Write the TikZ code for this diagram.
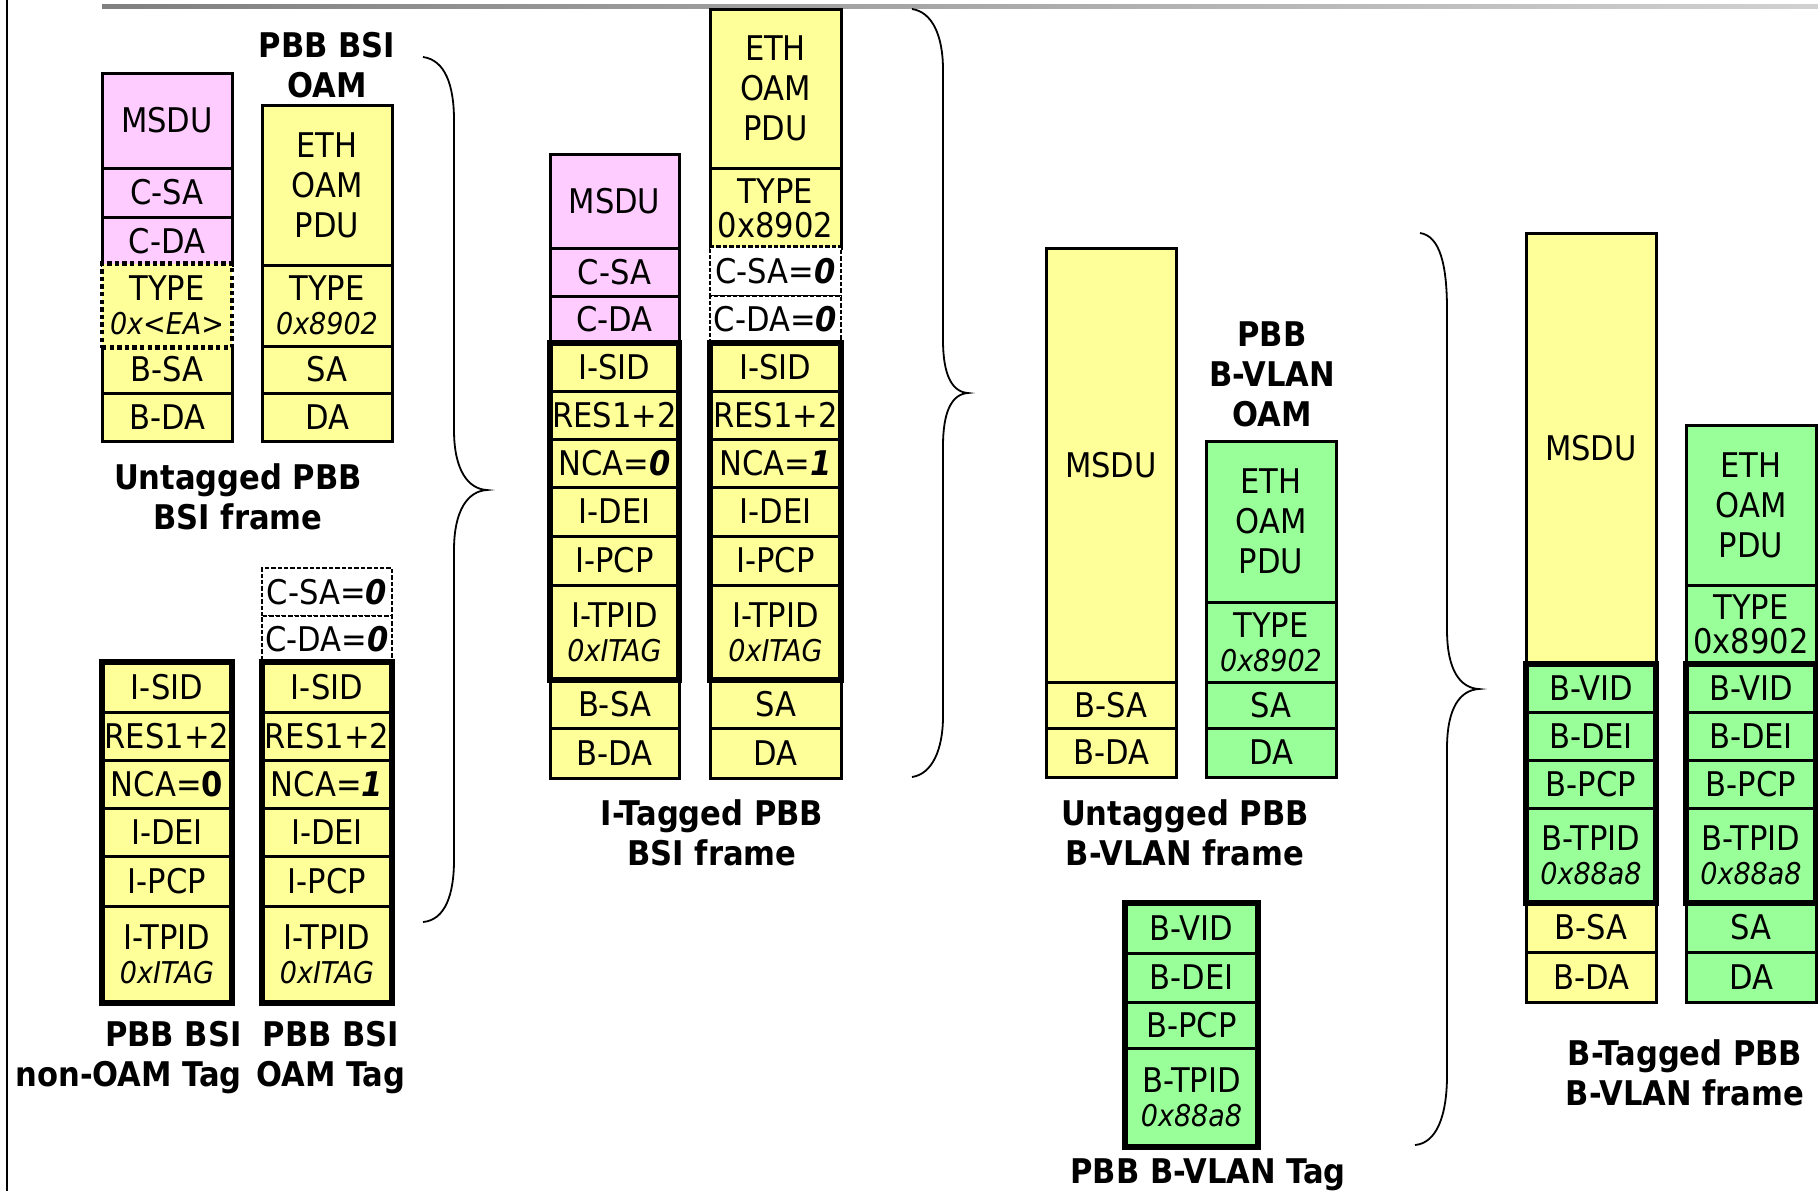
\documentclass[tikz,border=0pt]{standalone}
\usepackage{fontspec}
\setmainfont{DejaVu Sans Condensed}
\definecolor{pyellow}{HTML}{FFFF99}
\definecolor{ppink}{HTML}{FFCCFF}
\definecolor{pgreen}{HTML}{99FF99}
\newcommand\cellfont{\fontsize{17}{20}\selectfont}
\newcommand\lblfont{\fontsize{17}{20}\selectfont\bfseries}
\newcommand\subl[1]{{\fontsize{15}{17}\selectfont\itshape #1}}
\newcommand\bi[1]{{\bfseries\itshape #1}}
\tikzset{
 cellbase/.style={draw=black, line width=1.5pt, inner sep=0pt, outer sep=0pt, align=center, font=\cellfont, text=black},
 yel/.style={fill=pyellow}, pnk/.style={fill=ppink}, grn/.style={fill=pgreen},
 dotbox/.style={dash pattern=on 2.2pt off 1.6pt, line width=2.4pt},
 dashbox/.style={fill=white, dash pattern=on 2.2pt off 1pt, line width=1.3pt},
 thickbox/.style={draw=black, line width=3pt},
 lbl/.style={font=\lblfont, align=center, inner sep=0pt},
 bracestyle/.style={draw=black, line width=0.9pt},
}
\newcommand\pcell[7]{\node[cellbase,#6,minimum width={(#4-#2)*0.5pt},minimum height={(#5-#3)*0.5pt}] (#1) at ({(#2+#4)/2},{(#3+#5)/2}) {#7};}
\begin{document}
\begin{tikzpicture}[x=0.5pt,y=-0.5pt]
\useasboundingbox (0,0) rectangle (1818,1191);
\fill[white] (0,0) rectangle (1818,1191);
\shade[left color=black!50, right color=black!18] (102,4) rectangle (1818,8);
\draw[line width=1pt] (7,0) -- (7,1191);

% Untagged PBB BSI frame
\pcell{uaMsdu}{102}{73}{232}{168}{pnk}{MSDU}
\pcell{uaCsa}{102}{168}{232}{217}{pnk}{C-SA}
\pcell{uaCda}{102}{217}{232}{265}{pnk}{C-DA}
\pcell{uaBsa}{102}{346}{232}{393}{yel}{B-SA}
\pcell{uaBda}{102}{393}{232}{441}{yel}{B-DA}
\pcell{uaType}{102}{263.5}{232}{347.5}{yel,dotbox}{TYPE\\[-3pt]\subl{0x<EA>}}
% PBB BSI OAM
\pcell{uoEth}{262}{105}{392}{265}{yel}{ETH\\OAM\\PDU}
\pcell{uoType}{262}{265}{392}{346}{yel}{TYPE\\[-3pt]\subl{0x8902}}
\pcell{uoSa}{262}{346}{392}{393}{yel}{SA}
\pcell{uoDa}{262}{393}{392}{441}{yel}{DA}

% PBB BSI non-OAM Tag
\pcell{naSid}{102}{662}{232}{712}{yel}{I-SID}
\pcell{naRes}{102}{712}{232}{760}{yel}{RES1+2}
\pcell{naNca}{102}{760}{232}{808}{yel}{NCA={\bfseries 0}}
\pcell{naDei}{102}{808}{232}{856}{yel}{I-DEI}
\pcell{naPcp}{102}{856}{232}{906}{yel}{I-PCP}
\pcell{naTpid}{102}{906}{232}{1003}{yel}{I-TPID\\[-3pt]\subl{0xITAG}}
% PBB BSI OAM Tag
\pcell{otSid}{262}{662}{392}{712}{yel}{I-SID}
\pcell{otRes}{262}{712}{392}{760}{yel}{RES1+2}
\pcell{otNca}{262}{760}{392}{808}{yel}{NCA=\bi{1}}
\pcell{otDei}{262}{808}{392}{856}{yel}{I-DEI}
\pcell{otPcp}{262}{856}{392}{906}{yel}{I-PCP}
\pcell{otTpid}{262}{906}{392}{1003}{yel}{I-TPID\\[-3pt]\subl{0xITAG}}
\pcell{otCsa}{262}{568}{392}{616}{dashbox}{C-SA=\bi{0}}
\pcell{otCda}{262}{616}{392}{662}{dashbox}{C-DA=\bi{0}}

% I-Tagged PBB BSI frame, column A
\pcell{iaMsdu}{550}{154}{679}{248}{pnk}{MSDU}
\pcell{iaCsa}{550}{248}{679}{296}{pnk}{C-SA}
\pcell{iaCda}{550}{296}{679}{343}{pnk}{C-DA}
\pcell{iaSid}{550}{343}{679}{391}{yel}{I-SID}
\pcell{iaRes}{550}{391}{679}{439}{yel}{RES1+2}
\pcell{iaNca}{550}{439}{679}{487}{yel}{NCA=\bi{0}}
\pcell{iaDei}{550}{487}{679}{536}{yel}{I-DEI}
\pcell{iaPcp}{550}{536}{679}{585}{yel}{I-PCP}
\pcell{iaTpid}{550}{585}{679}{680}{yel}{I-TPID\\[-3pt]\subl{0xITAG}}
\pcell{iaBsa}{550}{680}{679}{728}{yel}{B-SA}
\pcell{iaBda}{550}{728}{679}{778}{yel}{B-DA}
% column B
\pcell{ibEth}{710}{9}{841}{168}{yel}{ETH\\OAM\\PDU}
\pcell{ibType}{710}{168}{841}{248}{yel}{TYPE\\[-3pt]0x8902}
\pcell{ibSid}{710}{343}{841}{391}{yel}{I-SID}
\pcell{ibRes}{710}{391}{841}{439}{yel}{RES1+2}
\pcell{ibNca}{710}{439}{841}{487}{yel}{NCA=\bi{1}}
\pcell{ibDei}{710}{487}{841}{536}{yel}{I-DEI}
\pcell{ibPcp}{710}{536}{841}{585}{yel}{I-PCP}
\pcell{ibTpid}{710}{585}{841}{680}{yel}{I-TPID\\[-3pt]\subl{0xITAG}}
\pcell{ibSa}{710}{680}{841}{728}{yel}{SA}
\pcell{ibDa}{710}{728}{841}{778}{yel}{DA}
\pcell{ibCsa}{710}{246.5}{841}{296}{dashbox}{C-SA=\bi{0}}
\pcell{ibCda}{710}{296}{841}{343}{dashbox}{C-DA=\bi{0}}

% Untagged PBB B-VLAN frame
\pcell{ubMsdu}{1046}{248}{1176}{682}{yel}{MSDU}
\pcell{ubBsa}{1046}{682}{1176}{728}{yel}{B-SA}
\pcell{ubBda}{1046}{728}{1176}{777}{yel}{B-DA}
\pcell{uvEth}{1206}{441}{1336}{602}{grn}{ETH\\OAM\\PDU}
\pcell{uvType}{1206}{602}{1336}{682}{grn}{TYPE\\[-3pt]\subl{0x8902}}
\pcell{uvSa}{1206}{682}{1336}{728}{grn}{SA}
\pcell{uvDa}{1206}{728}{1336}{777}{grn}{DA}

% PBB B-VLAN Tag
\pcell{bvVid}{1125}{903}{1258}{953}{grn}{B-VID}
\pcell{bvDei}{1125}{953}{1258}{1002}{grn}{B-DEI}
\pcell{bvPcp}{1125}{1002}{1258}{1048}{grn}{B-PCP}
\pcell{bvTpid}{1125}{1048}{1258}{1147}{grn}{B-TPID\\[-3pt]\subl{0x88a8}}

% B-Tagged PBB B-VLAN frame, column A
\pcell{baMsdu}{1526}{233}{1656}{664}{yel}{MSDU}
\pcell{baVid}{1526}{664}{1656}{712}{grn}{B-VID}
\pcell{baDei}{1526}{712}{1656}{760}{grn}{B-DEI}
\pcell{baPcp}{1526}{760}{1656}{808}{grn}{B-PCP}
\pcell{baTpid}{1526}{808}{1656}{903}{grn}{B-TPID\\[-3pt]\subl{0x88a8}}
\pcell{baBsa}{1526}{903}{1656}{952}{yel}{B-SA}
\pcell{baBda}{1526}{952}{1656}{1002}{yel}{B-DA}
% column B
\pcell{bbEth}{1686}{425}{1816}{585}{grn}{ETH\\OAM\\PDU}
\pcell{bbType}{1686}{585}{1816}{664}{grn}{TYPE\\[-3pt]0x8902}
\pcell{bbVid}{1686}{664}{1816}{712}{grn}{B-VID}
\pcell{bbDei}{1686}{712}{1816}{760}{grn}{B-DEI}
\pcell{bbPcp}{1686}{760}{1816}{808}{grn}{B-PCP}
\pcell{bbTpid}{1686}{808}{1816}{903}{grn}{B-TPID\\[-3pt]\subl{0x88a8}}
\pcell{bbSa}{1686}{903}{1816}{952}{grn}{SA}
\pcell{bbDa}{1686}{952}{1816}{1002}{grn}{DA}

% thick tag outlines
\draw[thickbox] (naSid.north west) rectangle (naTpid.south east);
\draw[thickbox] (otSid.north west) rectangle (otTpid.south east);
\draw[thickbox] (iaSid.north west) rectangle (iaTpid.south east);
\draw[thickbox] (ibSid.north west) rectangle (ibTpid.south east);
\draw[thickbox] (bvVid.north west) rectangle (bvTpid.south east);
\draw[thickbox] (baVid.north west) rectangle (baTpid.south east);
\draw[thickbox] (bbVid.north west) rectangle (bbTpid.south east);

% labels
\node[lbl] (tOam) at (327,65) {PBB BSI\\OAM};
\node[lbl] (lUa) at (238,497) {Untagged PBB\\BSI frame};
\node[lbl,align=right,anchor=east] (lNon) at (242,1058) {PBB BSI\\non-OAM Tag};
\node[lbl] (lOamTag) at (331,1058) {PBB BSI\\OAM Tag};
\node[lbl] (lIt) at (712,833) {I-Tagged PBB\\BSI frame};
\node[lbl] (tBv) at (1272,374) {PBB\\B-VLAN\\OAM};
\node[lbl] (lUb) at (1185,833) {Untagged PBB\\B-VLAN frame};
\node[lbl] (lBvt) at (1208,1175) {PBB B-VLAN Tag};
\node[lbl] (lBt) at (1685,1073) {B-Tagged PBB\\B-VLAN frame};

% braces
\draw[bracestyle] (423,57) .. controls (445,60) and (454,85) .. (454,120) -- (454,430)
  .. controls (454,470) and (468,489) .. (487,490)
  .. controls (468,491) and (454,510) .. (454,550) -- (454,860)
  .. controls (454,895) and (445,920) .. (423,922);
\draw[bracestyle] (912,9) .. controls (932,12) and (943,35) .. (943,70) -- (943,340)
  .. controls (943,375) and (952,392) .. (968,393)
  .. controls (952,394) and (943,411) .. (943,446) -- (943,716)
  .. controls (943,750) and (932,774) .. (912,777);
\draw[bracestyle] (1420,233) .. controls (1440,236) and (1447,265) .. (1447,310) -- (1447,630)
  .. controls (1447,670) and (1460,688) .. (1479,689)
  .. controls (1460,690) and (1447,708) .. (1447,748) -- (1447,1075)
  .. controls (1447,1115) and (1437,1143) .. (1415,1145);
\end{tikzpicture}
\end{document}
